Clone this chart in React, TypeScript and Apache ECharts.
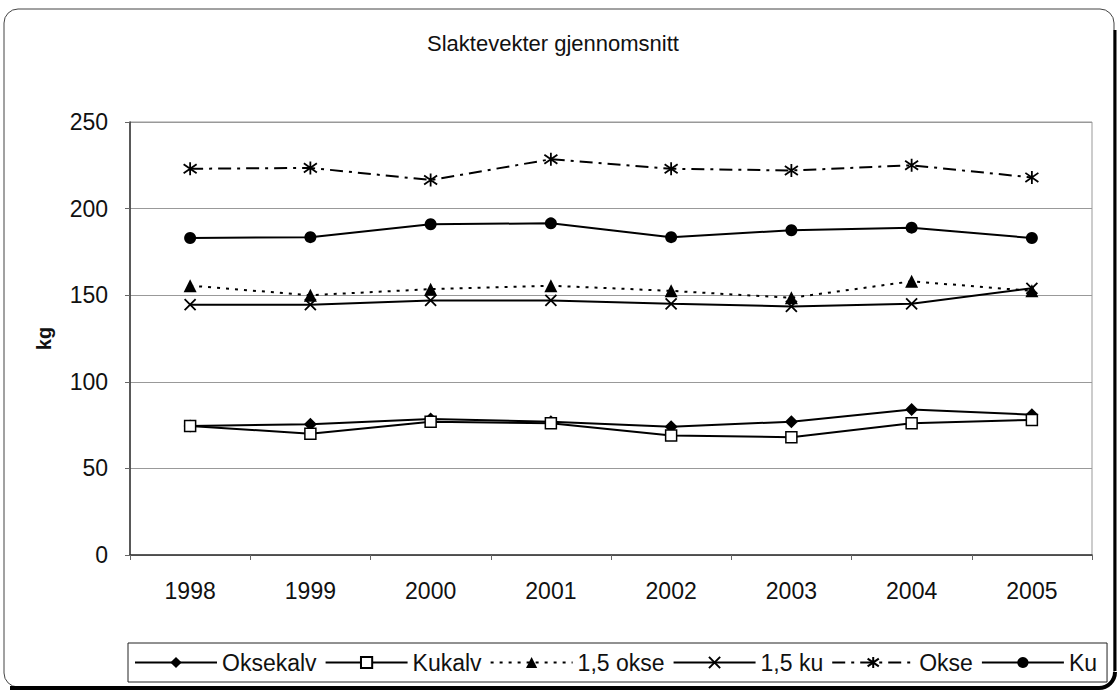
import React, { useEffect, useRef } from "react";
import * as echarts from "echarts";

const years = ["1998", "1999", "2000", "2001", "2002", "2003", "2004", "2005"];
const oksekalv = [74.5, 75.5, 78.5, 77, 74, 77, 84, 81];
const kukalv = [74.5, 70, 77, 76, 69, 68, 76, 78];
const okse15 = [155.5, 150, 153.5, 155.5, 152.5, 148.5, 158, 152.5];
const ku15 = [144.5, 144.5, 147, 147, 145, 143.5, 145, 154];
const okse = [223, 223.5, 216.5, 228.5, 223, 222, 225, 218];
const ku = [183, 183.5, 191, 191.5, 183.5, 187.5, 189, 183];
const yTicks = [0, 50, 100, 150, 200, 250];

const FONT = "'Liberation Sans', Arial, sans-serif";
const X_PATH = "path://M0,0L10,10M10,0L0,10";
const STAR_PATH = "path://M0,1.5L10,8.5M10,1.5L0,8.5M5,0L5,10";

export default function App() {
  const ref = useRef<HTMLDivElement>(null);
  useEffect(() => {
    if (!ref.current) return;
    const chart = echarts.init(ref.current, null, { renderer: "svg" });
    const base = (name: string, data: number[], symbol: string, size: number, item: any, lineType: any) => ({
      name,
      type: "line",
      data,
      symbol,
      symbolSize: size,
      showAllSymbol: true,
      lineStyle: { color: "#000", width: 2, type: lineType },
      itemStyle: item,
      emphasis: { disabled: true },
      z: 3,
    });
    chart.setOption({
      animation: false,
      backgroundColor: "#fff",
      textStyle: { fontFamily: FONT },
      title: {
        text: "Slaktevekter gjennomsnitt",
        left: 548,
        top: 27,
        textAlign: "center",
        textStyle: { fontFamily: FONT, fontSize: 22, fontWeight: "normal", color: "#111" },
      },
      grid: {
        left: 130,
        right: 28,
        top: 122,
        bottom: 142,
        show: true,
        borderColor: "#999",
        borderWidth: 1,
      },
      legend: {
        left: 128,
        top: 643,
        itemWidth: 82,
        itemHeight: 14,
        itemGap: 8,
        padding: [8, 10, 8, 6],
        borderColor: "#222",
        borderWidth: 1,
        textStyle: { fontFamily: FONT, fontSize: 23, color: "#111" },
        data: ["Oksekalv", "Kukalv", "1,5 okse", "1,5 ku", "Okse", "Ku"],
      },
      xAxis: {
        type: "category",
        data: years,
        boundaryGap: true,
        axisLine: { lineStyle: { color: "#333", width: 1.5 } },
        axisTick: { show: true, length: 5, lineStyle: { color: "#666" } },
        axisLabel: { margin: 24, fontSize: 23, color: "#111", fontFamily: FONT },
      },
      yAxis: {
        type: "value",
        min: 0,
        max: 250,
        interval: 50,
        name: "kg",
        nameLocation: "middle",
        nameGap: 76,
        nameRotate: 90,
        nameTextStyle: { fontFamily: FONT, fontSize: 20, fontWeight: "bold", color: "#111" },
        axisLine: { show: true, lineStyle: { color: "#333", width: 1.5 } },
        axisTick: { show: true, length: 5, lineStyle: { color: "#666" } },
        axisLabel: { margin: 22, fontSize: 23, color: "#111", fontFamily: FONT, formatter: (v: number) => (yTicks.includes(v) ? String(v) : "") },
        splitLine: { show: true, lineStyle: { color: "#999", width: 1 } },
      },
      series: [
        base("Oksekalv", oksekalv, "diamond", 13, { color: "#000" }, "solid"),
        base("Kukalv", kukalv, "rect", 11, { color: "#fff", borderColor: "#000", borderWidth: 1.5 }, "solid"),
        base("1,5 okse", okse15, "triangle", 13, { color: "#000" }, [3, 6]),
        base("1,5 ku", ku15, X_PATH, 11, { color: "none", borderColor: "#000", borderWidth: 1.8 }, "solid"),
        base("Okse", okse, STAR_PATH, 13, { color: "none", borderColor: "#000", borderWidth: 1.8 }, [13, 6, 3, 6]),
        base("Ku", ku, "circle", 12, { color: "#000" }, "solid"),
      ],
      graphic: [
        {
          type: "rect",
          silent: true,
          shape: { x: 4, y: 9, width: 1110, height: 678, r: 14 },
          style: { fill: "none", stroke: "#444", lineWidth: 1 },
        },
        { type: "line", silent: true, shape: { x1: 1115, y1: 30, x2: 1115, y2: 671 }, style: { stroke: "#000", lineWidth: 3 } },
        { type: "line", silent: true, shape: { x1: 10, y1: 688, x2: 1099, y2: 688 }, style: { stroke: "#000", lineWidth: 4 } },
        {
          type: "arc",
          silent: true,
          shape: { cx: 1099, cy: 672, r: 16, startAngle: 0, endAngle: Math.PI / 2 },
          style: { stroke: "#000", lineWidth: 4, fill: "none" },
        },
      ],
    });
    return () => chart.dispose();
  }, []);
  return <div ref={ref} style={{ position: "fixed", left: 0, top: 0, width: 1120, height: 697 }} />;
}
